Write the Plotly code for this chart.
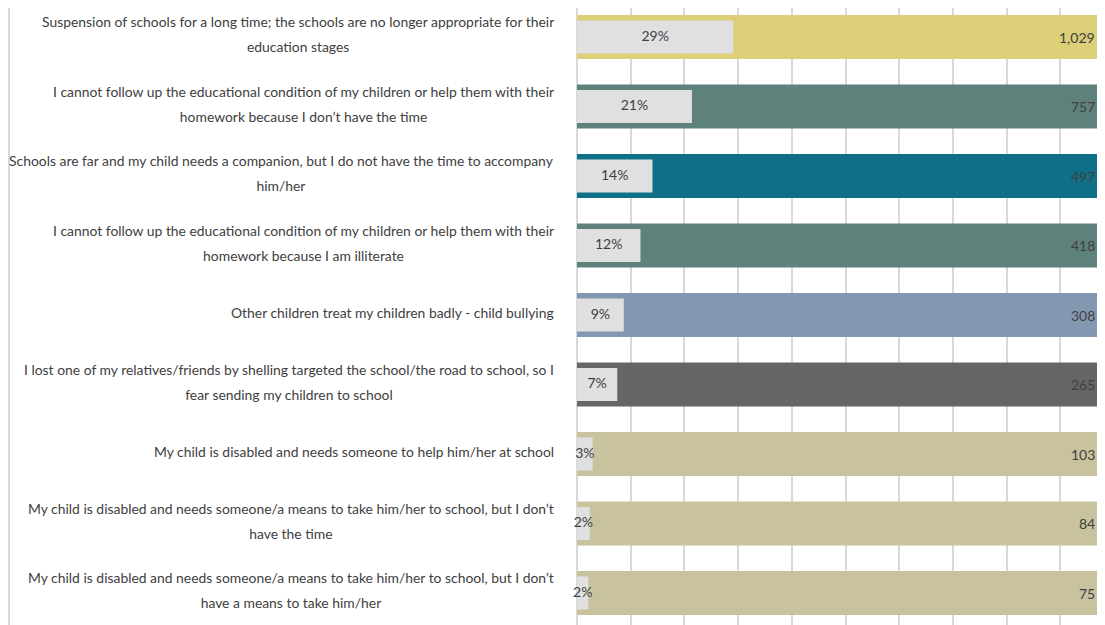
import plotly.graph_objects as go

label_lines = [
    ["Suspension of schools for a long time; the schools are no longer appropriate for their", "education stages"],
    ["I cannot follow up the educational condition of my children or help them with their", "homework because I don\u2019t have the time"],
    ["Schools are far and my child needs a companion, but I do not have the time to accompany", "him/her"],
    ["I cannot follow up the educational condition of my children or help them with their", "homework because I am illiterate"],
    ["Other children treat my children badly - child bullying"],
    ["I lost one of my relatives/friends by shelling targeted the school/the road to school, so I", "fear sending my children to school"],
    ["My child is disabled and needs someone to help him/her at school"],
    ["My child is disabled and needs someone/a means to take him/her to school, but I don\u2019t", "have the time"],
    ["My child is disabled and needs someone/a means to take him/her to school, but I don\u2019t", "have a means to take him/her"],
]
counts = [1029, 757, 497, 418, 308, 265, 103, 84, 75]
pct_labels = ["29%", "21%", "14%", "12%", "9%", "7%", "3%", "2%", "2%"]
bar_colors = ["#DCCF78", "#5E817C", "#0F6F86", "#5E817C", "#8497B0",
              "#666666", "#C8C39E", "#C8C39E", "#C8C39E"]

categories = [" ".join(l) for l in label_lines]
total = sum(counts)
shares = [c / total for c in counts]
full = [1.0 for _ in counts]  # each category = 100% of its answers

# page has an 8px body margin; keep the figure inside the window
W, H = 1097, 617
ML = 569
plot_w = W - ML
plot_h = H
row_px = 69.5
px_per_unit = 537.0
top_units = 29.0 / row_px

TEXT = "#404040"
FONT = "Lato"

fig = go.Figure()
fig.add_trace(go.Bar(
    y=categories, x=full, orientation="h", width=0.63,
    marker=dict(color=bar_colors, line=dict(width=0)),
    hoverinfo="skip", showlegend=False,
))
fig.add_trace(go.Bar(
    y=categories, x=shares, orientation="h", width=0.475,
    marker=dict(color="#E0E0E0", line=dict(width=0)),
    hoverinfo="skip", showlegend=False,
))
fig.add_trace(go.Scatter(
    y=categories, x=[s / 2 for s in shares], mode="text",
    text=pct_labels, textposition="middle center",
    textfont=dict(family=FONT, size=14, color=TEXT),
    hoverinfo="skip", showlegend=False, cliponaxis=False,
))

annotations = []
for cat, c in zip(categories, counts):
    annotations.append(dict(
        xref="paper", yref="y", x=1, y=cat, xanchor="right", yanchor="middle",
        xshift=-8, text=f"{c:,}", showarrow=False,
        font=dict(family=FONT, size=14, color=TEXT),
    ))
for cat, lines in zip(categories, label_lines):
    txt = "<br>".join(f"<span style='font-size:13.9px'>{ln}</span>" for ln in lines)
    annotations.append(dict(
        xref="paper", yref="y", x=0, y=cat, xanchor="right", yanchor="middle",
        xshift=-21, yshift=3, align="center", text=txt, showarrow=False,
        font=dict(family=FONT, size=19.2, color=TEXT),
    ))

fig.update_layout(
    width=W, height=H,
    margin=dict(l=ML, r=0, t=0, b=0, pad=0),
    paper_bgcolor="white", plot_bgcolor="white",
    barmode="overlay",
    annotations=annotations,
    shapes=[dict(type="line", xref="paper", yref="paper",
                 x0=-(ML - 1) / plot_w, x1=-(ML - 1) / plot_w, y0=0, y1=1,
                 line=dict(color="#D9D9D9", width=2))],
    xaxis=dict(range=[0, plot_w / px_per_unit], dtick=0.1, showgrid=True,
               gridcolor="#D9D9D9", gridwidth=2, zeroline=True,
               zerolinecolor="#D9D9D9", zerolinewidth=2,
               showticklabels=False, showline=False, fixedrange=True),
    yaxis=dict(type="category", categoryorder="array", categoryarray=categories,
               range=[-top_units + plot_h / row_px, -top_units], showticklabels=False,
               showgrid=False, zeroline=False, showline=False, fixedrange=True),
)

fig.write_html("out.html")
